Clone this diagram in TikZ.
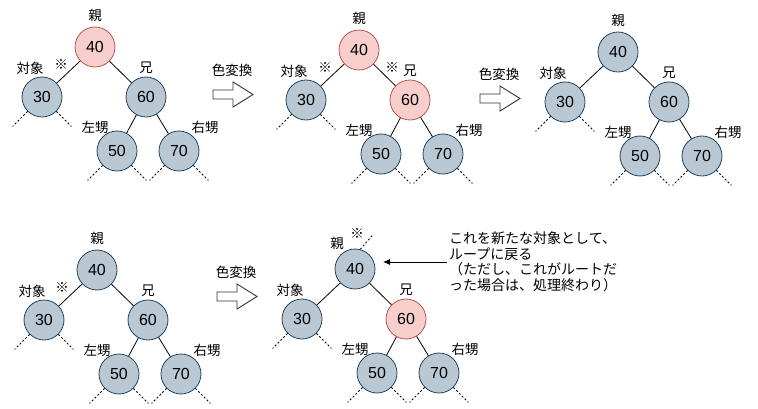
\documentclass[tikz,border=0pt]{standalone}
\usepackage{fontspec}
\setmainfont{Liberation Sans}
\newfontfamily\jpfont{Noto Sans CJK JP}
\usetikzlibrary{arrows.meta}
\definecolor{nodeblue}{HTML}{BAC8D3}
\definecolor{lineblue}{HTML}{23445D}
\definecolor{nodepink}{HTML}{F8CECC}
\definecolor{linered}{HTML}{B85450}
\definecolor{arrowgray}{HTML}{333333}

\tikzset{
  rb/.style={circle, minimum size=40pt, inner sep=0pt, line width=0.8pt,
    font=\fontsize{16}{16}\selectfont},
  blk/.style={fill=nodeblue, draw=lineblue},
  rd/.style={fill=nodepink, draw=linered},
  edge/.style={draw=black, line width=0.8pt},
  stub/.style={black, line width=0.8pt, dash pattern=on 2pt off 2pt},
  lab/.style={font=\jpfont\fontsize{13.5}{13.5}\selectfont, inner sep=0pt},
  note/.style={font=\jpfont\fontsize{14}{15.5}\selectfont, inner sep=2pt, align=left, anchor=west},
  blockarrow/.style={draw=arrowgray, fill=white, line width=0.9pt, line join=miter},
  pointer/.style={-{Latex[length=7pt,width=6pt]}, line width=0.8pt},
}

\begin{document}
\begin{tikzpicture}[x=1pt, y=-1pt]
  \useasboundingbox (0,0) rectangle (758,409);
  % The five trees
  \foreach \t/\x/\y/\rs/\ss/\px/\py in {a/95/47/rd/blk/0/-32, b/359/50/rd/rd/0/-32,
      c/618/52/blk/blk/0/-32, d/97/270/blk/blk/0/-32, e/355/269/blk/rd/-18/-26} {
    \node[rb,\rs] (\t40) at (\x,\y) {40};
    \node[rb,blk] (\t30) at ([shift={(-53,50)}]\t40) {30};
    \node[rb,\ss] (\t60) at ([shift={(51,50)}]\t40) {60};
    \node[rb,blk] (\t50) at ([shift={(22,104)}]\t40) {50};
    \node[rb,blk] (\t70) at ([shift={(84,104)}]\t40) {70};
    \draw[edge] (\t40) -- (\t30);
    \draw[edge] (\t40) -- (\t60);
    \draw[edge] (\t60) -- (\t50);
    \draw[edge] (\t60) -- (\t70);
    % Subtrees below - not shown
    \foreach \n in {30,50,70} {
      \draw[stub] (\t\n.225) -- ++(-15,15);
      \draw[stub] (\t\n.315) -- ++(15,15);
    }
    % Roles
    \node[lab] (\t-oya) at ([shift={(\px,\py)}]\t40) {親};
    \node[lab] (\t-tai) at ([shift={(-12,-29)}]\t30) {対象};
    \node[lab] (\t-ani) at ([shift={(0,-29)}]\t60) {兄};
    \node[lab] (\t-hidari) at ([shift={(-22,-24)}]\t50) {左甥};
    \node[lab] (\t-migi) at ([shift={(26,-24)}]\t70) {右甥};
  }
  % Marks
  \node[lab] (a-kome) at ([shift={(-34,18)}]a40) {※};
  \node[lab] (b-kome1) at ([shift={(-34,18)}]b40) {※};
  \node[lab] (b-kome2) at ([shift={(33,18)}]b40) {※};
  \node[lab] (d-kome) at ([shift={(-35,18)}]d40) {※};
  \node[lab] (e-kome) at ([shift={(2,-35)}]e40) {※};
  \draw[stub] (e40.75) -- ++(13,-15);
  % Colour change arrows
  \foreach \ax/\ay/\i in {213/82/1, 480/86/2, 217/284/3} {
    \draw[blockarrow] (\ax,\ay+8) -- ++(20,0) -- ++(0,-8) -- ++(20,12.5)
      -- ++(-20,12.5) -- ++(0,-8) -- ++(-20,0) -- cycle;
    \node[lab] (henkan\i) at (\ax+19,\ay-12) {色変換};
  }
  % Note
  \node[note] (memo) at (447,262) {これを新たな対象として、\\ループに戻る\\（ただし、これがルートだ\\った場合は、処理終わり）};
  \coordinate (memoTip) at (383,262);
  \draw[pointer] (memo.west) -- (memoTip);
\end{tikzpicture}
\end{document}
